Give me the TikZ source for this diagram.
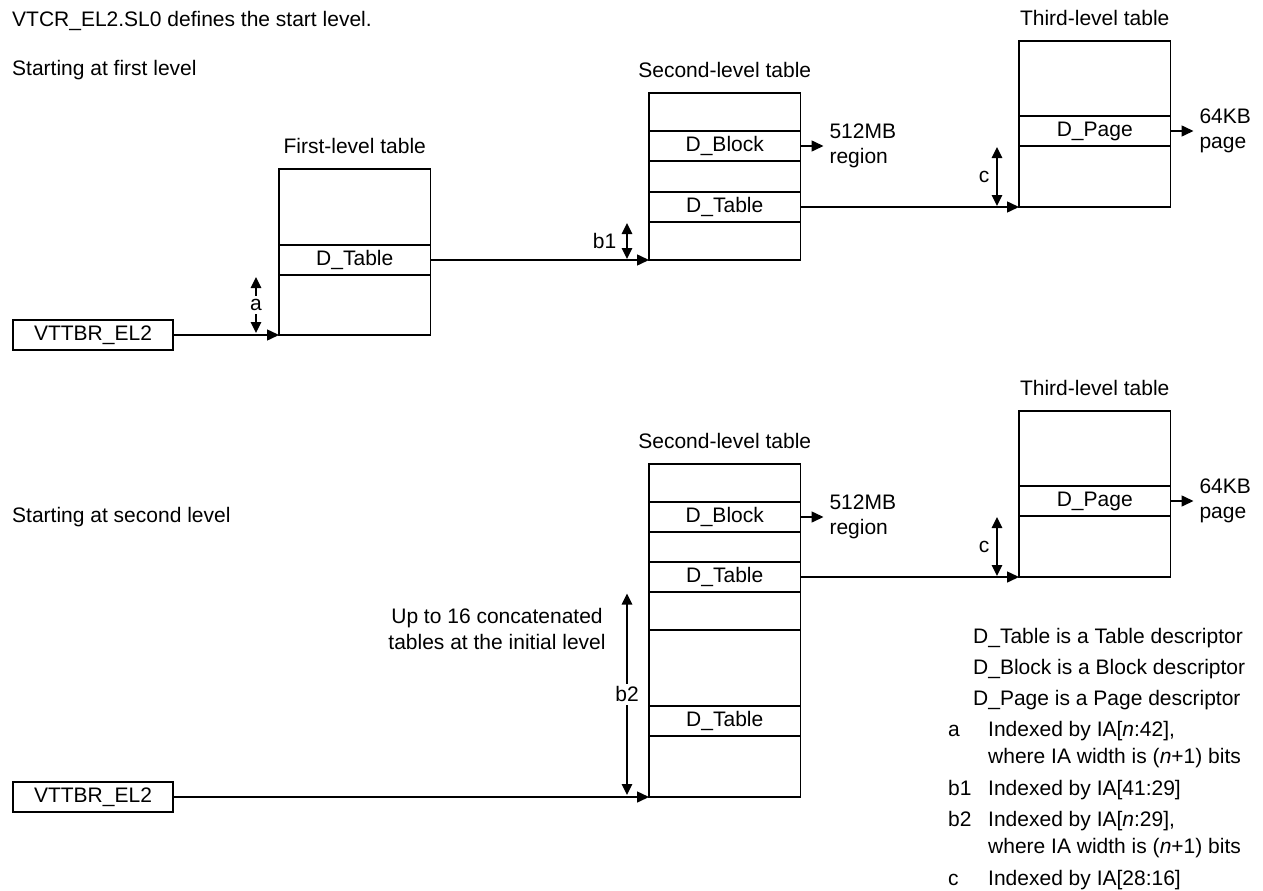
\documentclass[tikz,border=0pt]{standalone}
\usepackage{fontspec}
\setmainfont{Liberation Sans}
\usetikzlibrary{arrows.meta,positioning}

\begin{document}
\begin{tikzpicture}[
  x=1pt, y=-1pt,
  font=\fontsize{21}{25.6}\selectfont,
  tbl/.style={draw, line width=1.6pt, minimum width=151.5pt, inner sep=0pt, outer sep=0pt,
              anchor=north west},
  entry/.style={draw, line width=1.6pt, minimum width=151.5pt, minimum height=30pt,
                inner sep=0pt, outer sep=0pt, anchor=north west},
  basereg/.style={draw, line width=1.6pt, minimum width=160pt, minimum height=30pt,
                  inner sep=0pt, outer sep=0pt},
  lbl/.style={inner sep=0pt},
  txt/.style={anchor=base west, inner sep=0pt},
  outtxt/.style={inner xsep=6pt, inner ysep=0pt, outer sep=0pt, align=left},
  arr/.style={-{Triangle[length=12pt,width=11pt]}, line width=1.5pt},
  idx/.style={{Triangle[length=11pt,width=10.5pt]}-{Triangle[length=11pt,width=10.5pt]}, line width=1.5pt}
]
\useasboundingbox (0,0) rectangle (1263,891);

% starting at first level
\node[txt] (title) at (12,26.5) {VTCR\_EL2.SL0 defines the start level.};
\node[txt] (start1) at (12,75) {Starting at first level};

\node[basereg] (vt1) at (93,335) {VTTBR\_EL2};

\node[tbl, minimum height=166pt] (first) at (279,169) {};
\node[entry] (firstT) at (279,245) {D\_Table};
\node[lbl, above=15.5pt of first] (firstLbl) {First-level table};

\node[tbl, minimum height=167pt] (sec1) at (649,93) {};
\node[entry] (sec1B) at (649,131) {D\_Block};
\node[entry] (sec1T) at (649,192) {D\_Table};
\node[lbl, above=15.5pt of sec1] (sec1Lbl) {Second-level table};
\node[outtxt, right=23pt of sec1B] (reg1) {512MB\\region};

\node[tbl, minimum height=166pt] (third1) at (1019,41) {};
\node[entry] (third1P) at (1019,116) {D\_Page};
\node[lbl, above=15.5pt of third1] (third1Lbl) {Third-level table};
\node[outtxt, right=23pt of third1P] (pg1) {64KB\\page};

\draw[arr] (vt1.east) -- (first.south west);
\draw[arr] (firstT.east) -- (sec1.south west);
\draw[arr] (sec1B.east) -- (reg1.west);
\draw[arr] (sec1T.east) -- (third1.south west);
\draw[arr] (third1P.east) -- (pg1.west);

\coordinate (aTop) at (256,277);
\coordinate (aBot) at (256,333);
\draw[idx] (aTop) -- (aBot) node[midway, fill=white, inner sep=3pt] (aLbl) {a};
\coordinate (b1Top) at (627,223);
\coordinate (b1Bot) at (627,259);
\draw[idx] (b1Top) -- (b1Bot) node[midway, left=10pt, inner sep=0pt] (b1Lbl) {b1};
\coordinate (c1Top) at (997,147);
\coordinate (c1Bot) at (997,206);
\draw[idx] (c1Top) -- (c1Bot) node[midway, left=7pt, inner sep=0pt] (c1Lbl) {c};

% starting at second level
\node[txt] (start2) at (12,522) {Starting at second level};

\node[basereg] (vt2) at (93,797) {VTTBR\_EL2};

\node[tbl, minimum height=333pt] (sec2) at (649,464) {};
\node[entry] (sec2B) at (649,502) {D\_Block};
\node[entry] (sec2T) at (649,562) {D\_Table};
\node[entry, minimum height=38pt] (sec2E) at (649,592) {};
\node[entry] (sec2C) at (649,706) {D\_Table};
\node[lbl, above=15.5pt of sec2] (sec2Lbl) {Second-level table};
\node[outtxt, right=23pt of sec2B] (reg2) {512MB\\region};

\node[tbl, minimum height=166pt] (third2) at (1019,411) {};
\node[entry] (third2P) at (1019,486) {D\_Page};
\node[lbl, above=15.5pt of third2] (third2Lbl) {Third-level table};
\node[outtxt, right=23pt of third2P] (pg2) {64KB\\page};

\node[lbl, align=center] (concat) at (497,629) {Up to 16 concatenated\\tables at the initial level};

\draw[arr] (vt2.east) -- (sec2.south west);
\draw[arr] (sec2B.east) -- (reg2.west);
\draw[arr] (sec2T.east) -- (third2.south west);
\draw[arr] (third2P.east) -- (pg2.west);

\coordinate (b2Top) at (627,593.5);
\coordinate (b2Bot) at (627,795);
\draw[idx] (b2Top) -- (b2Bot) node[midway, fill=white, inner sep=3pt] (b2Lbl) {b2};
\coordinate (c2Top) at (997,517);
\coordinate (c2Bot) at (997,576);
\draw[idx] (c2Top) -- (c2Bot) node[midway, left=7pt, inner sep=0pt] (c2Lbl) {c};

% key
\node[txt] (keyT) at (973,643.3) {D\_Table is a Table descriptor};
\node[txt] (keyB) at (973,674.3) {D\_Block is a Block descriptor};
\node[txt] (keyP) at (973,705) {D\_Page is a Page descriptor};
\node[txt] (keyA) at (948,736.7) {a};
\node[txt] (keyAa) at (988,736.7) {Indexed by IA[\textit{n}:42],};
\node[txt] (keyAb) at (988,763.3) {where IA width is (\textit{n}+1) bits};
\node[txt] (keyB1) at (948,795) {b1};
\node[txt] (keyB1a) at (988,795) {Indexed by IA[41:29]};
\node[txt] (keyB2) at (948,826) {b2};
\node[txt] (keyB2a) at (988,826) {Indexed by IA[\textit{n}:29],};
\node[txt] (keyB2b) at (988,853.3) {where IA width is (\textit{n}+1) bits};
\node[txt] (keyC) at (948,885) {c};
\node[txt] (keyCa) at (988,885) {Indexed by IA[28:16]};
\end{tikzpicture}
\end{document}
